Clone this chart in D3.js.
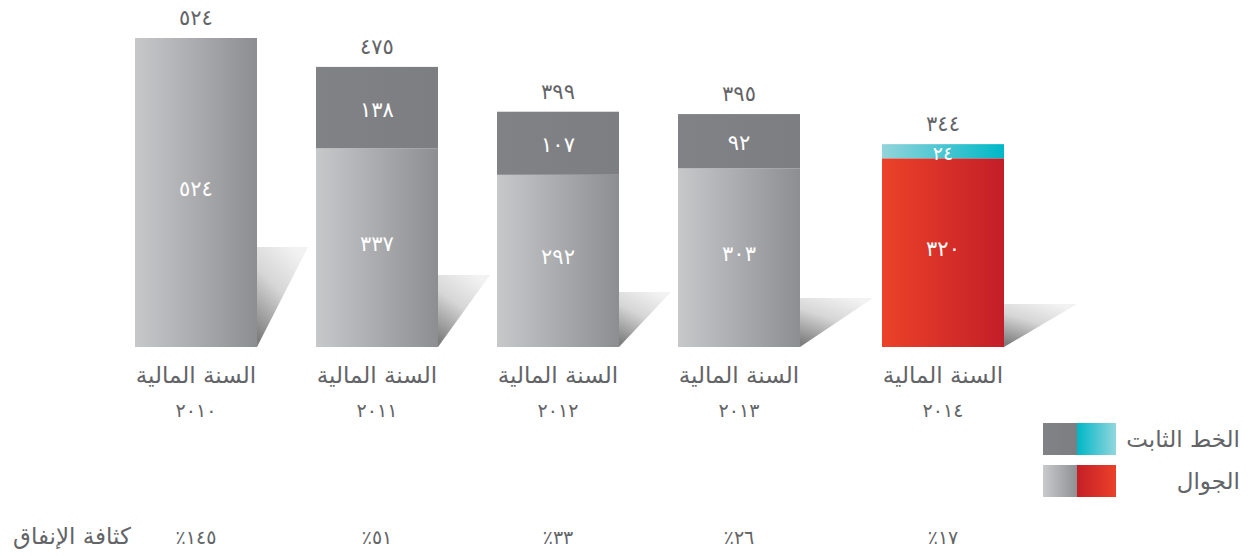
<!DOCTYPE html>
<html lang="ar">
<head>
<meta charset="utf-8">
<script src="https://cdn.jsdelivr.net/npm/d3@7"></script>
<style>
  html, body { margin: 0; padding: 0; background: #ffffff; }
  svg { display: block; font-family: "DejaVu Sans ExtraLight", "DejaVu Sans", sans-serif; }
</style>
</head>
<body>
<svg id="chart" width="1254" height="556"></svg>
<script>
// ---------------- DATA ----------------
const years       = ["2010", "2011", "2012", "2013", "2014"];
const yearLabels  = ["٢٠١٠", "٢٠١١", "٢٠١٢", "٢٠١٣", "٢٠١٤"];
const mobile      = [524, 337, 292, 303, 320];   // الجوال
const fixedLine   = [0, 138, 107, 92, 24];       // الخط الثابت
const totals      = [524, 475, 399, 395, 344];
const intensity   = [145, 51, 33, 26, 17];       // كثافة الإنفاق (%)
const highlightYear = "2014";
const yearTitle   = "السنة المالية";
const intensityTitle = "كثافة الإنفاق";
const legendLabels = ["الخط الثابت", "الجوال"];

// ---------------- STYLE / DECOR (not data) ----------------
const shadowDecor = [ [100, 51], [72, 52], [55, 52], [49, 73], [43, 73] ]; // [height, width] px
const textGray = "#636467";

const toArabic = n => String(n).replace(/\d/g, d => "٠١٢٣٤٥٦٧٨٩"[+d]);

const svg = d3.select("#chart");
const baseY = 347;

const x = d3.scaleBand().domain(years).range([135, 981]).paddingInner(0.326).paddingOuter(0);
const highlightGap = 23;
const xPos = yr => x(yr) + (yr === highlightYear ? highlightGap : 0);
const bw = x.bandwidth();

const y = d3.scaleLinear().domain([0, 524]).range([baseY, 38]);

// ---------------- GRADIENTS ----------------
const defs = svg.append("defs");
function hGrad(id, c1, c2) {
  const g = defs.append("linearGradient").attr("id", id)
    .attr("x1", 0).attr("y1", 0).attr("x2", 1).attr("y2", 0);
  g.append("stop").attr("offset", 0).attr("stop-color", c1);
  g.append("stop").attr("offset", 1).attr("stop-color", c2);
}
hGrad("gGray", "#c7c8ca", "#8d8e91");
hGrad("gDark", "#818286", "#7d7e82");
hGrad("gRed", "#ec4229", "#c31e28");
hGrad("gCyan", "#93d4db", "#00b8c7");
hGrad("lgCyan", "#00b7c7", "#93d6dd");
hGrad("lgRed", "#c51f27", "#eb412a");
hGrad("lgGray", "#c9cacc", "#8f9093");
const sg = defs.append("linearGradient").attr("id", "gShadow")
  .attr("x1", 0.7).attr("y1", 0).attr("x2", 0.2).attr("y2", 1);
sg.append("stop").attr("offset", 0).attr("stop-color", "#f2f2f2");
sg.append("stop").attr("offset", 0.45).attr("stop-color", "#d6d6d6");
sg.append("stop").attr("offset", 1).attr("stop-color", "#7e7e7e");

const rows = years.map((yr, i) => ({
  yr, i, mobile: mobile[i], fixed: fixedLine[i], total: totals[i],
  hi: yr === highlightYear
}));

// ---------------- SHADOWS ----------------
svg.append("g").selectAll("path").data(rows).join("path")
  .attr("d", d => {
    const [h, w] = shadowDecor[d.i];
    const xr = xPos(d.yr) + bw;
    return `M${xr},${baseY - h} L${xr + w},${baseY - h} L${xr},${baseY} Z`;
  })
  .attr("fill", "url(#gShadow)");

// ---------------- BARS ----------------
const bars = svg.append("g");
bars.selectAll("rect.mob").data(rows).join("rect")
  .attr("class", "mob")
  .attr("x", d => xPos(d.yr)).attr("width", bw)
  .attr("y", d => y(d.mobile)).attr("height", d => y(0) - y(d.mobile))
  .attr("fill", d => d.hi ? "url(#gRed)" : "url(#gGray)");
bars.selectAll("rect.fix").data(rows.filter(d => d.fixed > 0)).join("rect")
  .attr("class", "fix")
  .attr("x", d => xPos(d.yr)).attr("width", bw)
  .attr("y", d => y(d.total)).attr("height", d => y(d.mobile) - y(d.total))
  .attr("fill", d => d.hi ? "url(#gCyan)" : "url(#gDark)");

// ---------------- LABELS ----------------
const lab = svg.append("g").attr("text-anchor", "middle").attr("dominant-baseline", "central")
  .attr("font-size", 21);
lab.selectAll("text.tot").data(rows).join("text")
  .attr("x", d => xPos(d.yr) + bw / 2).attr("y", d => y(d.total) - 20)
  .attr("fill", textGray).text(d => toArabic(d.total));
lab.selectAll("text.in1").data(rows).join("text")
  .attr("x", d => xPos(d.yr) + bw / 2).attr("y", d => (y(d.mobile) + y(0)) / 2 - 4)
  .attr("fill", "#ffffff").text(d => toArabic(d.mobile));
lab.selectAll("text.in2").data(rows.filter(d => d.fixed > 0)).join("text")
  .attr("x", d => xPos(d.yr) + bw / 2).attr("y", d => (y(d.total) + y(d.mobile)) / 2 + 2)
  .attr("fill", "#ffffff").attr("font-size", d => d.hi ? 19 : 21).text(d => toArabic(d.fixed));

// year axis labels
const ax = svg.append("g").attr("text-anchor", "middle").attr("dominant-baseline", "central")
  .attr("fill", textGray);
ax.selectAll("text.t").data(rows).join("text")
  .attr("x", d => xPos(d.yr) + bw / 2).attr("y", 375)
  .attr("font-size", 23).text(yearTitle);
ax.selectAll("text.yy").data(rows).join("text")
  .attr("x", d => xPos(d.yr) + bw / 2).attr("y", 410)
  .attr("font-size", 19).text(d => yearLabels[d.i]);

// intensity row
const ir = svg.append("g").attr("dominant-baseline", "central").attr("fill", textGray);
ir.append("text").attr("x", 72).attr("y", 536).attr("text-anchor", "middle")
  .attr("font-size", 23).text(intensityTitle);
ir.selectAll("text.v").data(rows).join("text")
  .attr("x", d => xPos(d.yr) + bw / 2).attr("y", 537).attr("text-anchor", "middle")
  .attr("font-size", 19).text(d => "٪" + toArabic(intensity[d.i]));

// ---------------- LEGEND ----------------
const lg = svg.append("g");
const legendItems = [
  { label: legendLabels[0], left: "url(#gDark)", right: "url(#lgCyan)", y: 423 },
  { label: legendLabels[1], left: "url(#lgGray)", right: "url(#lgRed)", y: 465 }
];
legendItems.forEach(it => {
  lg.append("rect").attr("x", 1043).attr("y", it.y).attr("width", 34).attr("height", 32).attr("fill", it.left);
  lg.append("rect").attr("x", 1077).attr("y", it.y).attr("width", 39).attr("height", 32).attr("fill", it.right);
  lg.append("text").attr("x", 1240).attr("y", it.y + 16).attr("text-anchor", "end")
    .attr("dominant-baseline", "central").attr("font-size", 23).attr("fill", textGray)
    .text(it.label);
});
</script>
</body>
</html>
